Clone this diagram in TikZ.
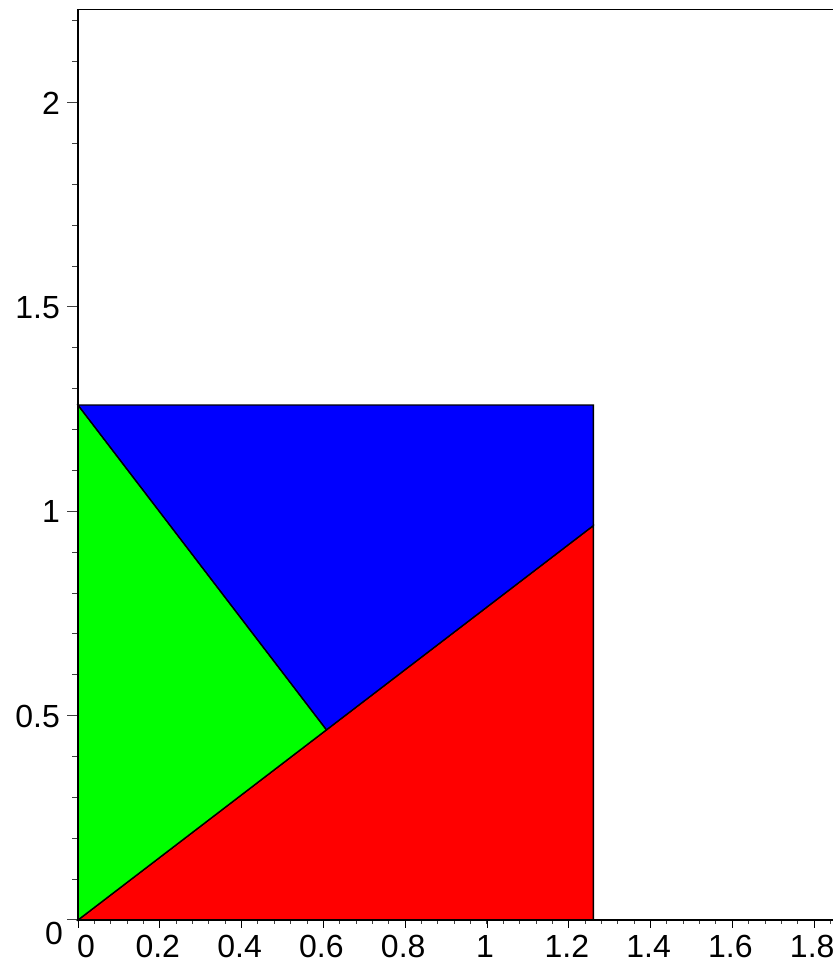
\documentclass[tikz,border=0pt]{standalone}
\usepackage{fontspec}
\setmainfont{Liberation Sans}
\usetikzlibrary{calc}
\begin{document}
\begin{tikzpicture}[x=1pt,y=1pt,
  lbl/.style={font=\fontsize{32}{32}\selectfont, inner sep=0pt},
  piece/.style={draw=black, line width=1.4pt, line join=miter},
  axis/.style={draw=black, line width=1.6pt},
  tck/.style={draw=black!75, line width=1pt}]
\useasboundingbox (0,0) rectangle (833,965);
\begin{scope}[shift={(78pt,45pt)}, x=409pt, y=408.7pt]
  \coordinate (O) at (0,0);
  \coordinate (BR) at (1.26,0);
  \coordinate (TR) at (1.26,1.26);
  \coordinate (TL) at (0,1.26);
  \coordinate (R) at (1.26,0.965);
  \coordinate (F) at ($(O)!(TL)!(R)$);
  \coordinate (XE) at (1.846,0);
  \coordinate (YE) at (0,2.228);
  \coordinate (TE) at (1.846,2.228);
  % pieces
  \path[piece, fill=red] (O) -- (BR) -- (R) -- cycle;
  \path[piece, fill={rgb,255:red,0;green,255;blue,0}] (O) -- (F) -- (TL) -- cycle;
  \path[piece, fill=blue] (TL) -- (TR) -- (R) -- (F) -- cycle;
  % x ticks
  \foreach \i in {0,...,46} {
    \pgfmathsetmacro{\xx}{0.04*\i}
    \draw[tck] (\xx,0) -- ++(0,-4pt);
  }
  \foreach \xx in {0,0.2,0.4,0.6,0.8,1,1.2,1.4,1.6,1.8} {
    \draw[tck, draw=black] (\xx,0) -- ++(0,-8pt);
  }
  \foreach \xx in {0.2,0.4,0.6,0.8,1,1.2,1.4,1.6,1.8} {
    \node[lbl, anchor=base] at ([xshift=-2pt,yshift=-38pt]\xx,0) {\xx};
  }
  \node[lbl, anchor=base west] (x0) at ([xshift=-1pt,yshift=-38pt]O) {0};
  % y ticks
  \foreach \i in {0,...,22} {
    \pgfmathsetmacro{\yy}{0.1*\i}
    \draw[tck] (0,\yy) -- ++(-6pt,0);
  }
  \foreach \yy in {0,0.5,1,1.5,2} {
    \draw[tck] (0,\yy) -- ++(-11pt,0);
  }
  \foreach \yy in {0.5,1,1.5,2} {
    \node[lbl, anchor=base east] at ([xshift=-18pt,yshift=-11.5pt]0,\yy) {\yy};
  }
  \node[lbl, anchor=base east] (y0) at ([xshift=-15pt,yshift=-25pt]O) {0};
  % axes and frame
  \draw[axis] (XE) -- (O) -- (YE) -- (TE);
\end{scope}
\end{tikzpicture}
\end{document}
